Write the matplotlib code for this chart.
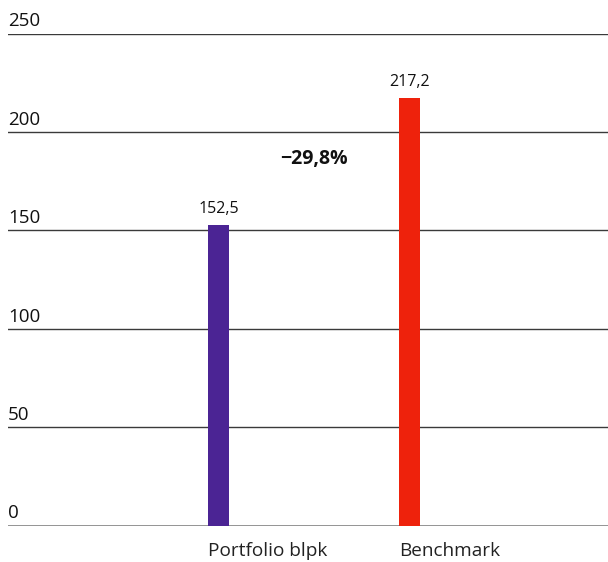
import matplotlib.pyplot as plt
import matplotlib.transforms as mtransforms

categories = ["Portfolio blpk", "Benchmark"]
values = [152.5, 217.2]
value_labels = ["152,5", "217,2"]
colors = ["#4B2494", "#EE220C"]
yticks = [0, 50, 100, 150, 200, 250]
diff_label = "\u221229,8%"
diff_y = 186

plt.rcParams["font.family"] = ["Open Sans", "DejaVu Sans"]

fig = plt.figure(figsize=(6.08, 5.62), dpi=100)
ax = fig.add_axes([8 / 608, 1 - 525.5 / 562, 600 / 608, (525.5 - 33.5) / 562])

x = list(range(len(categories)))
width = 0.11
ax.bar(x, values, width=width, color=colors, zorder=3)

ax.set_ylim(0, 250)
ax.set_xlim(-1.102, 2.039)

# gridlines
for t in yticks:
    if t == 0:
        ax.axhline(t, color="#8a8a8a", lw=2, zorder=2)
    else:
        ax.axhline(t, color="#3a3a3a", lw=1, zorder=2)

# y labels sitting above gridlines
tr = mtransforms.blended_transform_factory(ax.transAxes, ax.transData)
tr = tr + mtransforms.ScaledTranslation(0, 3 / 100, fig.dpi_scale_trans)
for t in yticks:
    ax.text(0.0, t, str(t), transform=tr, ha="left", va="bottom",
            fontsize=13.5, color="#111111")

# value labels
for xi, v, lab in zip(x, values, value_labels):
    ax.annotate(lab, (xi, v), xytext=(0, 6), textcoords="offset points",
                ha="center", va="bottom", fontsize=11.5, color="#111111")

# category labels, left aligned with bar edge
for xi, cat in zip(x, categories):
    ax.annotate(cat, (xi - width / 2, 0), xytext=(0, -12), textcoords="offset points",
                ha="left", va="top", fontsize=13.7, color="#222222",
                annotation_clip=False)

ax.text((x[0] + x[1]) / 2, diff_y, diff_label, ha="center", va="center",
        fontsize=14, fontweight="bold", color="#111111")

ax.axis("off")
fig.savefig("out.png", dpi=100)
